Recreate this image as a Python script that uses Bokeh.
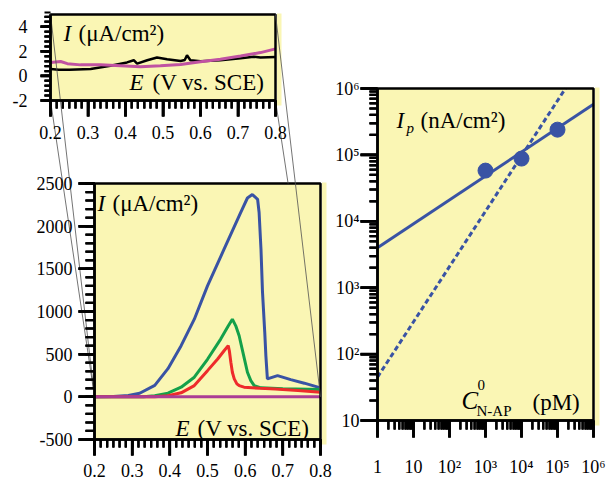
import math
from bokeh.plotting import figure
from bokeh.models import (Range1d, FixedTicker, Label, LinearAxis, LogAxis, LogScale, BoxAnnotation)
from bokeh.embed import file_html
from bokeh.resources import INLINE

# ---------------- data ----------------
# top inset: magnified baseline region (uA/cm2)
inset_E_magenta = [0.20, 0.227, 0.245, 0.28, 0.333, 0.387, 0.44, 0.493, 0.547, 0.60, 0.653, 0.707, 0.76, 0.80]
inset_I_magenta = [1.10, 1.17, 1.00, 0.90, 0.90, 0.83, 0.75, 0.83, 0.93, 1.15, 1.36, 1.63, 1.90, 2.20]
inset_E_black = [0.20, 0.222, 0.25, 0.307, 0.36, 0.404, 0.422, 0.431, 0.458, 0.484, 0.511, 0.547,
                 0.558, 0.564, 0.573, 0.60, 0.653, 0.707, 0.742, 0.76, 0.80]
inset_I_black = [0.56, 0.50, 0.50, 0.56, 0.83, 1.10, 1.28, 1.00, 1.28, 1.50, 1.36, 1.22,
                 1.30, 1.68, 1.28, 1.20, 1.28, 1.44, 1.57, 1.50, 1.55]

# main voltammograms (uA/cm2)
E_blue = [0.20, 0.25, 0.29, 0.32, 0.36, 0.395, 0.43, 0.465, 0.50, 0.544, 0.588, 0.606, 0.619,
          0.633, 0.637, 0.642, 0.646, 0.652, 0.655, 0.659, 0.686, 0.721, 0.757, 0.80]
I_blue = [0, 3, 15, 42, 135, 330, 600, 910, 1300, 1730, 2160, 2330, 2370,
          2315, 2160, 1730, 1230, 755, 480, 210, 249, 202, 160, 105]
E_green = [0.20, 0.33, 0.36, 0.395, 0.43, 0.465, 0.50, 0.535, 0.555, 0.566, 0.575, 0.584,
           0.596, 0.606, 0.615, 0.624, 0.642, 0.70, 0.80]
I_green = [0, 2, 12, 43, 113, 230, 440, 677, 830, 910, 832, 716,
           482, 288, 190, 132, 105, 95, 85]
E_red = [0.20, 0.36, 0.395, 0.43, 0.465, 0.50, 0.527, 0.544, 0.555, 0.558, 0.562, 0.566,
         0.571, 0.578, 0.584, 0.597, 0.64, 0.68, 0.74, 0.80]
I_red = [0, 2, 12, 47, 132, 307, 443, 540, 600, 540, 405, 288,
         210, 152, 132, 113, 100, 93, 75, 55]
E_magenta = [0.20, 0.80]
I_magenta = [0, 0]

# log-log calibration plot
conc_pM = [1e3, 1e4, 1e5]
ip_nA = [5.8e4, 8.8e4, 2.4e5]
fit_solid_x = [1, 1e6]
fit_solid_y = [4.0e3, 5.8e5]
fit_dash_x = [1, 1.66e5]
fit_dash_y = [45, 1e6]

# tick values / labels
E_ticks = [0.2, 0.3, 0.4, 0.5, 0.6, 0.7, 0.8]
inset_I_ticks = [-2, 0, 2, 4]
main_I_ticks = [-500, 0, 500, 1000, 1500, 2000, 2500]
conc_ticks = [1, 10, 100, 1000, 10000, 100000, 1000000]
ip_ticks = [10, 100, 1000, 10000, 100000, 1000000]
log_tick_labels = {1: "1", 10: "10", 100: "10²", 1000: "10³", 10000: "10⁴",
                   100000: "10⁵", 1000000: "10⁶"}

# ---------------- styling / layout ----------------
BG = "#faf6b4"
BLUE = "#3953a4"
GREEN = "#14a04a"
RED = "#ee2b2b"
MAGENTA = "#ab3d95"
MAGENTA_T = "#c052a2"
FONT = "Liberation Serif"
TITLE_PX = 23
TICK_FONT = "18px"

W, H = 611, 481                    # one canvas; its default ranges are page pixels
T_FRAME = (50, 14, 275, 100)       # left, top, right, bottom (px)
B_FRAME = (94, 183, 320, 439)
R_FRAME = (377, 88, 593, 420)

T_XR, T_YR = (0.2, 0.8), (-2, 5)
B_XR, B_YR = (0.2, 0.8), (-500, 2500)
R_XR, R_YR = (1, 1e6), (10, 1e6)


def interp(f, a, c, log=False):
    if log:
        return 10 ** (math.log10(a) + f * (math.log10(c) - math.log10(a)))
    return a + f * (c - a)


def frac(v, lo, hi, log=False):
    if log:
        return (math.log10(v) - math.log10(lo)) / (math.log10(hi) - math.log10(lo))
    return (v - lo) / (hi - lo)


def px_to_data(frame, xr, yr, px, py, log=False):
    l, t, r, b = frame
    return (interp((px - l) / (r - l), xr[0], xr[1], log),
            interp((b - py) / (b - t), yr[0], yr[1], log))


def data_to_px(frame, xr, yr, x, y, log=False):
    l, t, r, b = frame
    return (l + frac(x, xr[0], xr[1], log) * (r - l),
            b - frac(y, yr[0], yr[1], log) * (b - t))


def sub_ranges(frame, xr, yr, log=False):
    """Ranges that put a panel's data window exactly onto its frame box on the canvas."""
    x0, y0 = px_to_data(frame, xr, yr, 0, H, log)
    x1, y1 = px_to_data(frame, xr, yr, W, 0, log)
    return Range1d(x0, x1), Range1d(y0, y1)


def lin_minor(lo, hi, step):
    n = int(round((hi - lo) / step))
    return [round(lo + i * step, 6) for i in range(n + 1)]


def log_minor(d0, d1):
    return [k * 10 ** d for d in range(d0, d1) for k in range(2, 10)]


def style_axis(ax, tick_out, minor_out, standoff):
    ax.axis_line_color = "black"
    ax.axis_line_width = 2.5
    ax.major_tick_line_color = "black"
    ax.minor_tick_line_color = "black"
    ax.major_tick_line_width = 2.5
    ax.minor_tick_line_width = 2
    ax.major_tick_in = 0
    ax.minor_tick_in = 0
    ax.major_tick_out = tick_out
    ax.minor_tick_out = minor_out
    ax.major_label_standoff = standoff
    ax.major_label_text_font = FONT
    ax.major_label_text_font_size = TICK_FONT
    ax.major_label_text_color = "black"
    if "background_fill_color" in type(ax).properties():
        ax.background_fill_color = None
    return ax


def page_label(p, px, py, text, size, italic=False):
    p.add_layout(Label(x=px, y=py, text=text, text_font=FONT,
                       text_font_size=f"{size}px",
                       text_font_style="italic" if italic else "normal",
                       text_align="left", text_baseline="middle", text_color="black"))


P = figure(width=W, height=H, x_range=Range1d(0, W), y_range=Range1d(H, 0),
           x_axis_type=None, y_axis_type=None,
           output_backend="svg", toolbar_location=None, title=None,
           min_border=0, min_border_left=0, min_border_right=0,
           min_border_top=0, min_border_bottom=0,
           background_fill_color="white", border_fill_color="white",
           outline_line_color=None)
P.xgrid.visible = False
P.ygrid.visible = False

tx, ty = sub_ranges(T_FRAME, T_XR, T_YR)
bx, by = sub_ranges(B_FRAME, B_XR, B_YR)
rx, ry = sub_ranges(R_FRAME, R_XR, R_YR, log=True)
P.extra_x_ranges = {"Tx": tx, "Bx": bx, "Rx": rx}
P.extra_y_ranges = {"Ty": ty, "By": by, "Ry": ry}
P.extra_x_scales = {"Rx": LogScale()}
P.extra_y_scales = {"Ry": LogScale()}

panels = [("T", T_FRAME, T_XR, T_YR, False), ("B", B_FRAME, B_XR, B_YR, False),
          ("R", R_FRAME, R_XR, R_YR, True)]

# pale strip peeking out right of each panel
for _, fr, _, _, _ in panels:
    P.quad(left=[fr[2] + 1.5], right=[fr[2] + 6], top=[fr[1] - 1], bottom=[fr[3] + 5],
           fill_color=BG, line_color=None)
for name, _, xr, yr, _ in panels:
    P.quad(left=[xr[0]], right=[xr[1]], bottom=[yr[0]], top=[yr[1]],
           x_range_name=name + "x", y_range_name=name + "y",
           fill_color=BG, line_color=None)

# inset curves
P.line(inset_E_black, inset_I_black, line_color="black", line_width=2.5,
       x_range_name="Tx", y_range_name="Ty")
P.line(inset_E_magenta, inset_I_magenta, line_color=MAGENTA_T, line_width=3,
       x_range_name="Tx", y_range_name="Ty")
# main curves
for xs, ys, c in ((E_blue, I_blue, BLUE), (E_green, I_green, GREEN),
                  (E_red, I_red, RED), (E_magenta, I_magenta, MAGENTA)):
    P.line(xs, ys, line_color=c, line_width=3, x_range_name="Bx", y_range_name="By")
# calibration plot
P.line(fit_dash_x, fit_dash_y, line_color=BLUE, line_width=3, line_dash="5 3",
       x_range_name="Rx", y_range_name="Ry")
P.line(fit_solid_x, fit_solid_y, line_color=BLUE, line_width=3,
       x_range_name="Rx", y_range_name="Ry")
P.scatter(conc_pM, ip_nA, size=15, fill_color=BLUE, line_color=BLUE,
          x_range_name="Rx", y_range_name="Ry")

# panel borders
for name, _, xr, yr, _ in panels:
    P.quad(left=[xr[0]], right=[xr[1]], bottom=[yr[0]], top=[yr[1]],
           x_range_name=name + "x", y_range_name=name + "y",
           fill_color=None, line_color="black", line_width=2.5)

# axes pinned to the panel edges: (panel, side, major ticks, minor ticks, major out, minor out, standoff, overrides)
axis_specs = [
    ("T", "below", E_ticks, lin_minor(0.2, 0.8, 1 / 60), 16, 8, 9, {}),
    ("T", "left", inset_I_ticks, lin_minor(-2, 5, 0.4), 10, 6, 13, {-2: "-2"}),
    ("B", "below", E_ticks, lin_minor(0.2, 0.8, 1 / 60), 16, 8, 8, {}),
    ("B", "left", main_I_ticks, lin_minor(-500, 2500, 100), 16, 9, 6, {-500: "-500"}),
    ("R", "below", conc_ticks, log_minor(0, 6), 17, 9, 19, log_tick_labels),
    ("R", "left", ip_ticks, log_minor(1, 6), 17, 8, 1, log_tick_labels),
]
pinfo = {name: (fr, xr, yr, log) for name, fr, xr, yr, log in panels}

# tick marks as thin filled bars (left, right, top, bottom in px)
tk_l, tk_r, tk_t, tk_b = [], [], [], []
for name, side, majors, minors, mout, nout, standoff, overrides in axis_specs:
    fr, xr, yr, log = pinfo[name]
    l, t, r, b = fr
    Axis = LogAxis if log else LinearAxis
    loc, bnd = (yr[0], xr) if side == "below" else (xr[0], yr)
    ax = Axis(x_range_name=name + "x", y_range_name=name + "y", fixed_location=loc, bounds=bnd,
              ticker=FixedTicker(ticks=majors, minor_ticks=minors),
              major_label_overrides=overrides)
    P.add_layout(style_axis(ax, mout, nout, standoff), side)
    for vals, length, half in ((majors, mout, 1.25), (minors, nout, 1.0)):
        for v in vals:
            if side == "below" and xr[0] <= v <= xr[1]:
                sx = l + frac(v, xr[0], xr[1], log) * (r - l)
                tk_l.append(sx - half); tk_r.append(sx + half)
                tk_t.append(b); tk_b.append(b + length)
            elif side == "left" and yr[0] <= v <= yr[1]:
                sy = b - frac(v, yr[0], yr[1], log) * (b - t)
                tk_l.append(l - length); tk_r.append(l)
                tk_t.append(sy - half); tk_b.append(sy + half)
P.quad(left=tk_l, right=tk_r, top=tk_t, bottom=tk_b, fill_color="black", line_color=None)
# the same tick bars again as annotations, painted above the axes
for a, c, d, e in zip(tk_l, tk_r, tk_t, tk_b):
    P.add_layout(BoxAnnotation(left=a, right=c, top=d, bottom=e,
                               fill_color="black", fill_alpha=1.0,
                               line_color=None, level="annotation"))

# in-panel axis titles (px)
page_label(P, 63, 33, "I", TITLE_PX, italic=True)
page_label(P, 78, 33, "(μA/cm²)", TITLE_PX)
page_label(P, 129, 82, "E", TITLE_PX, italic=True)
page_label(P, 152, 82, "(V vs. SCE)", TITLE_PX)
page_label(P, 97, 203, "I", TITLE_PX, italic=True)
page_label(P, 112, 203, "(μA/cm²)", TITLE_PX)
page_label(P, 175, 428, "E", TITLE_PX, italic=True)
page_label(P, 197, 428, "(V vs. SCE)", TITLE_PX)
page_label(P, 396, 120, "I", TITLE_PX, italic=True)
page_label(P, 406, 127, "p", 15, italic=True)
page_label(P, 420, 120, "(nA/cm²)", TITLE_PX)
page_label(P, 461, 400, "C", 25, italic=True)
page_label(P, 477, 384, "0", 15)
page_label(P, 476, 410, "N-AP", 15)
page_label(P, 532, 402, "(pM)", TITLE_PX)

# zoom connectors: inset corners -> zero baseline of the main panel
tl = data_to_px(T_FRAME, T_XR, T_YR, T_XR[0], T_YR[1])
bl = data_to_px(T_FRAME, T_XR, T_YR, T_XR[0], T_YR[0])
tr = data_to_px(T_FRAME, T_XR, T_YR, T_XR[1], T_YR[1])
br = data_to_px(T_FRAME, T_XR, T_YR, T_XR[1], T_YR[0])
z_left = data_to_px(B_FRAME, B_XR, B_YR, B_XR[0], 0)
z_right = data_to_px(B_FRAME, B_XR, B_YR, B_XR[1], 0)
f = (B_FRAME[1] - br[1]) / (z_right[1] - br[1])   # lower-right one hides behind main panel
br_end = (br[0] + f * (z_right[0] - br[0]), B_FRAME[1])
P.segment(x0=[tl[0], bl[0], tr[0], br[0]], y0=[tl[1], bl[1], tr[1], br[1]],
          x1=[z_left[0], z_left[0], z_right[0], br_end[0]],
          y1=[z_left[1], z_left[1], z_right[1], br_end[1]],
          line_color="#505050", line_width=0.8)

open("out.html", "w").write(file_html(P, INLINE))
